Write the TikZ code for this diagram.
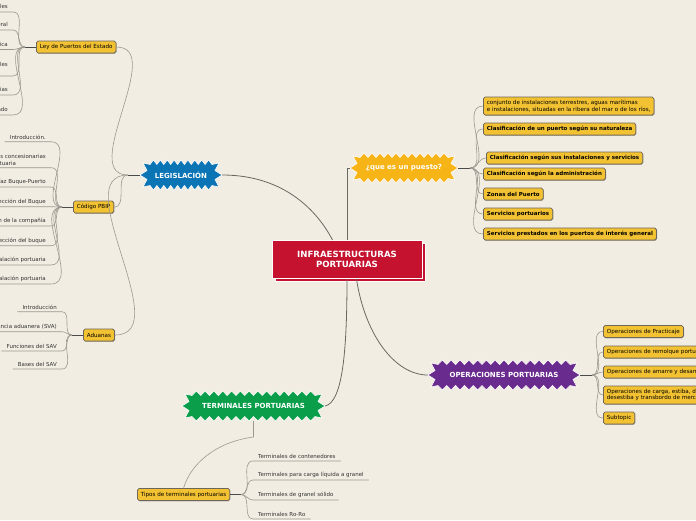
\documentclass[tikz,border=0pt]{standalone}
\usepackage{fontspec}
\setmainfont{DejaVu Sans}
\usetikzlibrary{shadows,calc}
\definecolor{bgc}{HTML}{F2EDE3}
\definecolor{redc}{HTML}{C4122F}
\definecolor{bluec}{HTML}{0B74B5}
\definecolor{orangec}{HTML}{F7B417}
\definecolor{purplec}{HTML}{6A2B8E}
\definecolor{greenc}{HTML}{0A9E4A}
\definecolor{boxf}{HTML}{F3C233}
\definecolor{boxb}{HTML}{6E6658}
\definecolor{linec}{HTML}{9C9890}
\definecolor{mainl}{HTML}{6A6862}
\definecolor{stubc}{HTML}{4A4A4A}
\definecolor{leaft}{HTML}{333333}
\tikzset{
  topic/.style={draw=boxb, fill=boxf, rounded corners=1.8pt, line width=0.75pt,
    font=\fontsize{5.6}{6.6}\selectfont, text=black, inner xsep=3.5pt, inner ysep=1.5pt,
    minimum height=12pt, anchor=west, align=left,
    drop shadow={shadow xshift=0.6pt, shadow yshift=-0.8pt, opacity=0.3, fill=black}},
  topicb/.style={topic, font=\fontsize{5.5}{6.6}\selectfont\bfseries},
  leafl/.style={font=\fontsize{5.5}{6.6}\selectfont, text=leaft, inner xsep=5pt, inner ysep=1.8pt, anchor=south east, align=left},
  leafr/.style={leafl, anchor=south west},
  bigtext/.style={font=\fontsize{7}{8}\selectfont\bfseries, text=white, inner sep=0pt},
  child/.style={draw=linec, line width=0.6pt},
  stub/.style={draw=stubc, line width=0.8pt},
  mainconn/.style={draw=mainl, line width=0.8pt},
}
\newcommand\zigbox[8]{%
  \pgfmathsetmacro\zs{(2*#4-20)/#6}%
  \fill[#7, draw=white, line width=0.6pt]
    ({#2-#4},{#3})
    -- ({#2-#4+7},{#3-0.3*#5}) -- ({#2-#4+3},{#3-0.8*#5})
    -- ({#2-#4+10},{#3-#5+4.5})
    \foreach \k in {1,...,#6} { -- ({#2-#4+10+(\k-0.5)*\zs},{#3-#5}) -- ({#2-#4+10+\k*\zs},{#3-#5+4.5}) }
    -- ({#2+#4-3},{#3-0.8*#5}) -- ({#2+#4-7},{#3-0.3*#5}) -- ({#2+#4},{#3})
    -- ({#2+#4-7},{#3+0.3*#5}) -- ({#2+#4-3},{#3+0.8*#5})
    -- ({#2+#4-10},{#3+#5-4.5})
    \foreach \k in {1,...,#6} { -- ({#2+#4-10-(\k-0.5)*\zs},{#3+#5}) -- ({#2+#4-10-\k*\zs},{#3+#5-4.5}) }
    -- ({#2-#4+3},{#3+0.8*#5}) -- ({#2-#4+7},{#3+0.3*#5}) -- cycle;
  \node[bigtext, minimum width={2*#4}, minimum height={2*#5}] (#1) at (#2,#3) {#8};
}
\begin{document}
\begin{tikzpicture}[x=1pt,y=-1pt]
\useasboundingbox (0,0) rectangle (696,520);
\clip (0,0) rectangle (696,520);
\fill[bgc] (0,0) rectangle (696,520);

% central node
\fill[redc, draw=white, line width=1pt] (275,243.5) rectangle (425,281.5);
\node[fill=redc, draw=white, line width=1pt, minimum width=150pt, minimum height=38pt,
  font=\fontsize{8.6}{10.6}\selectfont\bfseries, text=white, align=center] (main) at (347,259.5)
  {INFRAESTRUCTURAS\\PORTUARIAS};

% main topics
\zigbox{leg}{181}{175}{41}{15}{9}{bluec}{LEGISLACIÓN}
\zigbox{que}{404}{168}{54}{15}{11}{orangec}{¿que es un puesto?}
\zigbox{ops}{504}{375}{76}{15}{15}{purplec}{OPERACIONES PORTUARIAS}
\zigbox{term}{253.5}{406}{71.5}{15}{14}{greenc}{TERMINALES PORTUARIAS}

% main connectors
\draw[mainconn] (leg.east) .. controls (285,175) and (318,212) .. ($(main.north west)+(61,0)$);
\draw[mainconn] (main.north) -- (main.north |- que.west) -- (que.west);
\draw[mainconn] ($(main.south west)+(85,0)$) .. controls (365,335) and (395,375) .. (ops.west);
\draw[mainconn] (main.south) .. controls (347,355) and (342,402) .. (term.east);

% ---------- LEGISLACION branch
\coordinate (jl) at (128,175);
\draw[stub] (leg.west) -- (jl);
\node[topic] (ley) at (36,47) {Ley de Puertos del Estado};
\node[topic] (pbip) at (73,207) {Código PBIP};
\node[topic] (adu) at (83,335) {Aduanas};
\foreach \t in {ley,pbip,adu} { \draw[child] (jl) to[out=180,in=0] (\t.east); }

% Ley children
\coordinate (j1) at (25,47);
\draw[stub] (ley.west) -- (j1);
\node[leafl] (l1) at (13,12) {Antecedentes y detalles};
\node[leafl] (l2) at (13,30) {Marco general};
\node[leafl] (l3) at (13,49.5) {Organización pública};
\node[leafl, inner ysep=1.2pt] (l4) at (13,76) {Servicios portuarios comerciales\\del puerto};
\node[leafl] (l5) at (13,95) {Tasas portuarias};
\node[leafl] (l6) at (13,115) {Régimen del Estado};
\foreach \t in {l1,l2,l3,l4,l5,l6} { \draw[child] (j1) to[out=180,in=0] (\t.south east) -- (\t.south west); }

% PBIP children
\coordinate (j2) at (62,207);
\draw[stub] (pbip.west) -- (j2);
\node[leafl] (p1) at (51,141.7) {Introducción.};
\node[leafl, inner ysep=1.2pt] (p2) at (51,167.7) {Empresas concesionarias\\Área portuaria};
\node[leafl] (p3) at (51,187) {Interfaz Buque-Puerto};
\node[leafl] (p4) at (51,206.7) {Plan de protección del Buque};
\node[leafl] (p5) at (51,226) {Oficial de protección de la compañía};
\node[leafl] (p6) at (51,245.7) {Oficial de protección del buque};
\node[leafl] (p7) at (51,265) {Plan de protección de la instalación portuaria};
\node[leafl] (p8) at (51,284) {Oficial de protección de la instalación portuaria};
\foreach \t in {p1,p2,p3,p4,p5,p6,p7,p8} { \draw[child] (j2) to[out=180,in=0] (\t.south east) -- (\t.south west); }

% Aduanas children
\coordinate (j3) at (72,335);
\draw[stub] (adu.west) -- (j3);
\node[leafl] (a1) at (62,311.7) {Introducción};
\node[leafl] (a2) at (62,331.7) {Servicio de Vigilancia aduanera (SVA)};
\node[leafl] (a3) at (62,351) {Funciones del SAV};
\node[leafl] (a4) at (62,369) {Bases del SAV};
\foreach \t in {a1,a2,a3,a4} { \draw[child] (j3) to[out=180,in=0] (\t.south east) -- (\t.south west); }

% ---------- que es un puesto branch
\coordinate (j4) at (470,168);
\draw[stub] (que.east) -- (j4);
\node[topic, minimum height=18pt] (q1) at (483,106) {conjunto de instalaciones terrestres, aguas marítimas\\e instalaciones, situadas en la ribera del mar o de los ríos,};
\node[topicb] (q2) at (483,129) {Clasificación de un puerto según su naturaleza};
\node[topicb] (q3) at (486,158) {Clasificación según sus instalaciones y servicios};
\node[topicb] (q4) at (483,174) {Clasificación según la administración};
\node[topicb] (q5) at (483,194) {Zonas del Puerto};
\node[topicb] (q6) at (483,214) {Servicios portuarios};
\node[topicb] (q7) at (483,234) {Servicios prestados en los puertos de interés general};
\foreach \t in {q1,q2,q3,q4,q5,q6,q7} { \draw[child] (j4) to[out=0,in=180] (\t.west); }

% ---------- operaciones branch
\coordinate (j5) at (592,375);
\draw[stub] (ops.east) -- (j5);
\node[topic] (o1) at (603,331.5) {Operaciones de Practicaje};
\node[topic] (o2) at (603,352) {Operaciones de remolque portuario};
\node[topic] (o3) at (603,372) {Operaciones de amarre y desamarre};
\node[topic, minimum height=18pt] (o4) at (603,395) {Operaciones de carga, estiba, descarga,\\desestiba y transbordo de mercancías};
\node[topic] (o5) at (603,418) {Subtopic};
\foreach \t in {o1,o2,o3,o4,o5} { \draw[child] (j5) to[out=0,in=180] (\t.west); }

% ---------- terminales branch
\node[topic] (tipos) at (137,494.5) {Tipos de terminales portuarias};
\coordinate (jt) at (253.5,437);
\draw[child] (term.south) -- (jt) .. controls (215,442) and (190,465) .. (tipos.north);
\coordinate (j6) at (241,494.5);
\draw[stub] (tipos.east) -- (j6);
\node[leafr] (t1) at (253,461) {Terminales de contenedores};
\node[leafr] (t2) at (253,480) {Terminales para carga líquida a granel};
\node[leafr] (t3) at (253,500) {Terminales de granel sólido};
\node[leafr] (t4) at (253,519) {Terminales Ro-Ro};
\foreach \t in {t1,t2,t3,t4} { \draw[child] (j6) to[out=0,in=180] (\t.south west) -- (\t.south east); }
\end{tikzpicture}
\end{document}
